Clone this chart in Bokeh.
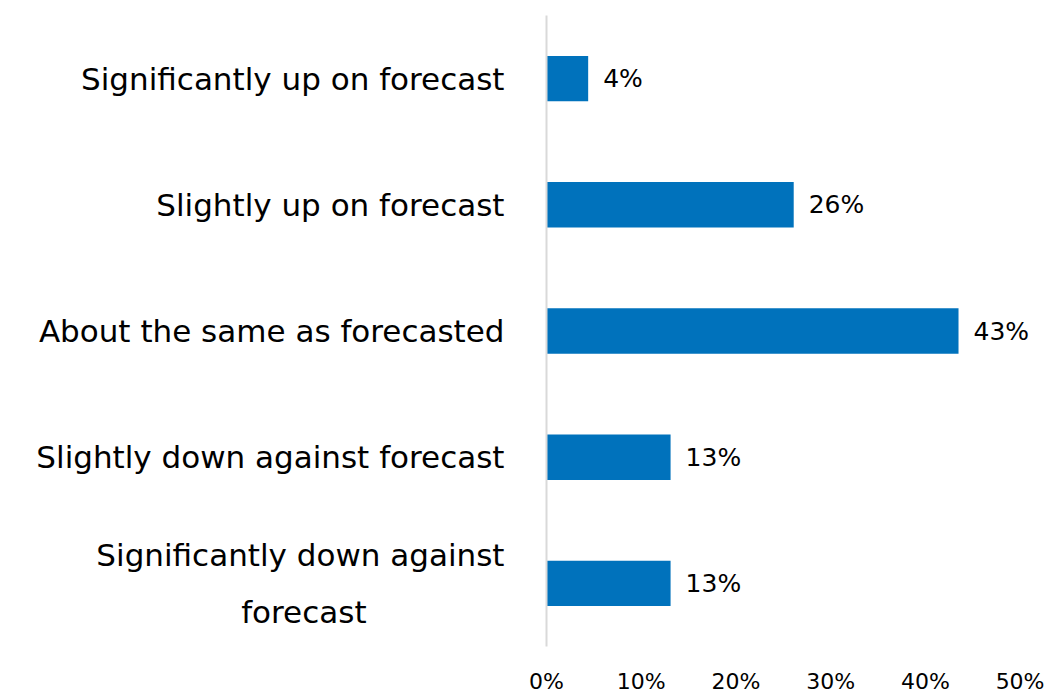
from bokeh.plotting import figure
from bokeh.models import FactorRange, Range1d, FixedTicker, NumeralTickFormatter, ColumnDataSource
from bokeh.core.properties import value
from bokeh.embed import file_html
from bokeh.resources import INLINE

categories = [
    "Significantly up on forecast",
    "Slightly up on forecast",
    "About the same as forecasted",
    "Slightly down against forecast",
    "Significantly down against\nforecast" + "\u00a0" * 14,
]
shares = [0.044, 0.261, 0.435, 0.131, 0.131]
share_labels = ["4%", "26%", "43%", "13%", "13%"]
x_ticks = [0, 0.1, 0.2, 0.3, 0.4, 0.5]

FONT = "DejaVu Sans"

src = ColumnDataSource(dict(cat=categories, val=shares, lab=share_labels))

p = figure(
    width=1049, height=696,
    y_range=FactorRange(*reversed(categories), range_padding=0),
    x_range=Range1d(0, 0.53),
    output_backend="svg", toolbar_location=None,
    min_border_left=546, min_border_right=1, min_border_top=15, min_border_bottom=46,
)
p.outline_line_color = None
p.xgrid.grid_line_color = None
p.ygrid.grid_line_color = None
p.background_fill_color = "white"
p.border_fill_color = "white"

p.hbar(y="cat", right="val", left=0, height=0.36, source=src,
       fill_color="#0072BC", line_color=None)
p.text(x="val", y="cat", text="lab", source=src, x_offset=15,
       text_baseline="middle", text_align="left",
       text_font=value(FONT), text_font_size="25px", text_color="#000000")

xa = p.xaxis[0]
xa.ticker = FixedTicker(ticks=x_ticks)
xa.formatter = NumeralTickFormatter(format="0%")
xa.axis_line_color = None
xa.major_tick_line_color = None
xa.minor_tick_line_color = None
xa.major_label_standoff = 16
xa.major_label_text_font = FONT
xa.major_label_text_font_size = "22px"
xa.major_label_text_color = "#000000"

ya = p.yaxis[0]
ya.axis_line_color = "#d9d9d9"
ya.axis_line_width = 2
ya.major_tick_line_color = None
ya.minor_tick_line_color = None
ya.major_label_standoff = 36
ya.major_label_text_font = FONT
ya.major_label_text_font_size = "31px"
ya.major_label_text_color = "#000000"
ya.major_label_text_baseline = "bottom"
ya.major_label_text_line_height = 1.6

open("out.html", "w").write(file_html(p, INLINE))
